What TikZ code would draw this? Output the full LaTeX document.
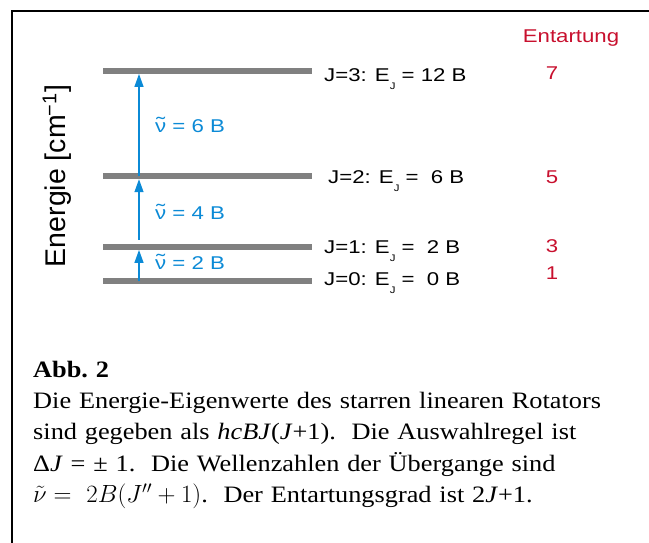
\documentclass[tikz,border=0pt]{standalone}
\usepackage{fontspec}
\setmainfont[FakeStretch=1.12]{Liberation Serif}
\setsansfont{Liberation Sans}
\newfontfamily\widesans[FakeStretch=1.2]{Liberation Sans}
\usetikzlibrary{arrows.meta, positioning}
\definecolor{lvl}{HTML}{808080}
\definecolor{trans}{HTML}{0B8AD6}
\definecolor{degen}{HTML}{C8102E}
\newcommand{\lab}{\fontsize{18.5}{22}\selectfont\widesans}
\newcommand{\subJ}{\raisebox{-0.45em}{\fontsize{9.5}{10}\selectfont J}}
\newcommand{\nutil}{\ooalign{ν\cr\hidewidth\raisebox{0.1em}{\scalebox{1.2}[1]{˜}}\hidewidth\cr}}

\begin{document}
\begin{tikzpicture}[x=1pt, y=-1pt,
      bar/.style={rectangle, fill=lvl, inner sep=0pt, minimum width=209pt,
                  minimum height=6pt},
      lvltext/.style={anchor=base west, inner sep=0pt, font=\lab},
      degtext/.style={inner sep=0pt, text=degen, font=\lab},
      wntext/.style={anchor=west, inner sep=0pt, text=trans, font=\lab},
      uparr/.style={draw=trans, line width=1.3pt,
                    -{Triangle[length=13pt, width=9pt]}}]
      \useasboundingbox (0,0) rectangle (649,542);
      \draw[line width=2pt] (12,545) -- (12,11) -- (652,11);
      % Energieniveaus
      \foreach \j/\y/\x/\e/\ly/\g/\gy in {0/281/324/~0/285.5/1/273, 1/246.7/324/~2/253.5/3/246,
                                          2/176/328/~6/183.5/5/177, 3/70.7/324/12/81.5/7/73}{
        \node[bar] (j\j) at (207.5,\y) {};
        \node[lvltext] (t\j) at (\x,\ly) {J=\j: E\subJ\ = \e\ B};
        \node[degtext] (g\j) at (552,\gy) {\g};
      }
      \node[degtext] (ent) at (571,38) {Entartung};
      \node[font=\fontsize{28.5}{28}\selectfont\sffamily, rotate=90] (yl) at (57,176)
        {Energie [cm\textsuperscript{\kern-0.05em−1}]};
      % Uebergaenge
      \coordinate (ax) at (139,0);
      \draw[uparr] (j0.center -| ax) -- (j1.south -| ax);
      \draw[uparr] ([yshift=4pt]j1.north -| ax) -- (j2.south -| ax);
      \draw[uparr] (j2.center -| ax) -- (j3.south -| ax);
      \node[wntext] (w1) at (155,263) {\nutil\ = 2 B};
      \node[wntext] (w2) at (155,213) {\nutil\ = 4 B};
      \node[wntext] (w3) at (155,126) {\nutil\ = 6 B};
      % Bildunterschrift
      \node[anchor=north west, inner sep=0pt, text width=614pt, align=left,
            font=\fontsize{23.5}{31.2}\selectfont] (cap) at (33,361) {%
        \textbf{Abb.\ 2}\\
        Die Energie-Eigenwerte des starren linearen Rotators\\
        sind gegeben als \textit{hcBJ}(\textit{J}+1).\ \ Die Auswahlregel ist\\
        Δ\textit{J} = ± 1.\ \ Die Wellenzahlen der Übergange sind\\
        $\tilde{\nu} = \ 2B(J''+1)$.\ \ Der Entartungsgrad ist 2\textit{J}+1.};
    \end{tikzpicture}
\end{document}
